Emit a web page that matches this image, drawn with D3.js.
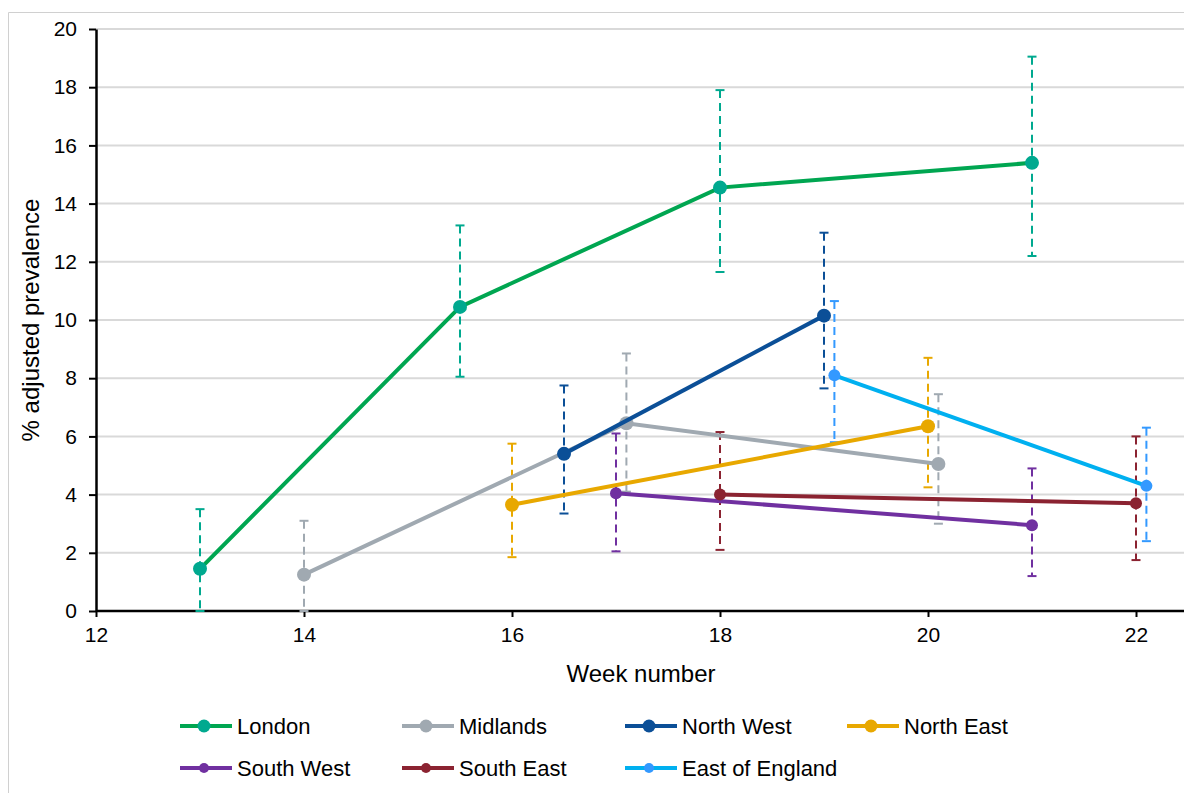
<!DOCTYPE html>
<html>
<head>
<meta charset="utf-8">
<script src="https://cdn.jsdelivr.net/npm/d3@7"></script>
<style>
  body { margin: 0; background: #fff; font-family: "Liberation Sans", Arial, sans-serif; overflow: hidden; }
  svg text { font-family: "Liberation Sans", Arial, sans-serif; fill: #000; }
</style>
</head>
<body>
<div id="chart"></div>
<script>
const width = 1184, height = 793;

// Regions and their readings: week, % adjusted prevalence, lower and upper CI
const regions = ["London", "Midlands", "North West", "North East", "South West", "South East", "East of England"];
const lineColors = ["#00a651", "#a0a9b1", "#0b4f97", "#e8a800", "#7030a0", "#8b2331", "#00b0f0"];
const markerColors = ["#00a98f", "#a0a9b1", "#0b4f97", "#e8a800", "#7030a0", "#8b2331", "#3399ff"];

const londonWeek = [13, 15.5, 18, 21];
const londonValue = [1.45, 10.45, 14.55, 15.4];
const londonLow = [0, 8.05, 11.65, 12.2];
const londonHigh = [3.5, 13.25, 17.9, 19.05];

const midlandsWeek = [14, 17.1, 20.1];
const midlandsValue = [1.25, 6.45, 5.05];
const midlandsLow = [0, 4.1, 3.0];
const midlandsHigh = [3.1, 8.85, 7.45];

const northWestWeek = [16.5, 19];
const northWestValue = [5.4, 10.15];
const northWestLow = [3.35, 7.65];
const northWestHigh = [7.75, 13.0];

const northEastWeek = [16, 20];
const northEastValue = [3.65, 6.35];
const northEastLow = [1.85, 4.25];
const northEastHigh = [5.75, 8.7];

const southWestWeek = [17, 21];
const southWestValue = [4.05, 2.95];
const southWestLow = [2.05, 1.2];
const southWestHigh = [6.1, 4.9];

const southEastWeek = [18, 22];
const southEastValue = [4.0, 3.7];
const southEastLow = [2.1, 1.75];
const southEastHigh = [6.15, 6.0];

const eastWeek = [19.1, 22.1];
const eastValue = [8.1, 4.3];
const eastLow = [5.8, 2.4];
const eastHigh = [10.65, 6.3];

const xTicks = [12, 14, 16, 18, 20, 22];
const yTicks = [0, 2, 4, 6, 8, 10, 12, 14, 16, 18, 20];

function pack(week, value, low, high) {
  return week.map((w, i) => ({ week: w, value: value[i], low: low[i], high: high[i] }));
}
const series = [
  pack(londonWeek, londonValue, londonLow, londonHigh),
  pack(midlandsWeek, midlandsValue, midlandsLow, midlandsHigh),
  pack(northWestWeek, northWestValue, northWestLow, northWestHigh),
  pack(northEastWeek, northEastValue, northEastLow, northEastHigh),
  pack(southWestWeek, southWestValue, southWestLow, southWestHigh),
  pack(southEastWeek, southEastValue, southEastLow, southEastHigh),
  pack(eastWeek, eastValue, eastLow, eastHigh)
];

const svg = d3.select("#chart")
  .append("svg")
  .attr("width", width)
  .attr("height", height);

// chart border (only left and top show in the picture)
svg.append("path")
  .attr("d", "M8.5,793 V12.5 H1184")
  .attr("fill", "none")
  .attr("stroke", "#d0d0d0");

// x = 12 sits at 96px, 22 at 1136px; the axis runs off the right edge
const x = d3.scaleLinear().domain([12, 22]).range([96, 1136]);
const y = d3.scaleLinear().domain([0, 20]).range([611, 29]);
const xEnd = 1190;

// gridlines
svg.append("g")
  .selectAll("line")
  .data(yTicks.filter(d => d > 0))
  .enter()
  .append("line")
  .attr("x1", x(12)).attr("x2", xEnd)
  .attr("y1", d => y(d)).attr("y2", d => y(d))
  .attr("stroke", "#d9d9d9")
  .attr("stroke-width", 2);

// axes
const xAxis = svg.append("g")
  .attr("transform", `translate(0,${y(0)})`)
  .call(d3.axisBottom(x).tickValues(xTicks).tickSize(6).tickPadding(8).tickSizeOuter(0));
xAxis.select(".domain").attr("d", `M${x(12)},0H${xEnd}`);
const yAxis = svg.append("g")
  .attr("transform", `translate(${x(12)},0)`)
  .call(d3.axisLeft(y).tickValues(yTicks).tickSize(7).tickPadding(12).tickSizeOuter(0));

[xAxis, yAxis].forEach(g => {
  g.select(".domain").attr("stroke", "#000").attr("stroke-width", 2.5);
  g.selectAll(".tick line").attr("stroke", "#000").attr("stroke-width", 2);
  g.selectAll(".tick text").attr("font-size", 21).attr("fill", "#000");
});
xAxis.selectAll(".tick text").attr("dy", "0.8em");

svg.append("text")
  .attr("x", 641).attr("y", 682)
  .attr("text-anchor", "middle")
  .attr("font-size", 24)
  .text("Week number");

svg.append("text")
  .attr("transform", `translate(39,${y(10)}) rotate(-90)`)
  .attr("text-anchor", "middle")
  .attr("font-size", 24)
  .text("% adjusted prevalence");

// error bars
series.forEach((pts, i) => {
  const g = svg.append("g");
  g.selectAll(".err")
    .data(pts)
    .enter()
    .append("line")
    .attr("x1", d => x(d.week)).attr("x2", d => x(d.week))
    .attr("y1", d => y(d.high)).attr("y2", d => y(d.low))
    .attr("stroke", markerColors[i])
    .attr("stroke-width", 2)
    .attr("stroke-dasharray", "8,5");
  ["low", "high"].forEach(k => {
    g.selectAll(".cap-" + k)
      .data(pts)
      .enter()
      .append("line")
      .attr("x1", d => x(d.week) - 4.5).attr("x2", d => x(d.week) + 4.5)
      .attr("y1", d => y(d[k])).attr("y2", d => y(d[k]))
      .attr("stroke", markerColors[i])
      .attr("stroke-width", 2);
  });
});

// lines and markers
const line = d3.line().x(d => x(d.week)).y(d => y(d.value));
series.forEach((pts, i) => {
  svg.append("path")
    .datum(pts)
    .attr("d", line)
    .attr("fill", "none")
    .attr("stroke", lineColors[i])
    .attr("stroke-width", 4);
  svg.selectAll(null)
    .data(pts)
    .enter()
    .append("circle")
    .attr("cx", d => x(d.week))
    .attr("cy", d => y(d.value))
    .attr("r", i < 4 ? 7 : 6)
    .attr("fill", markerColors[i]);
});

// legend
const legendX = [180, 402, 625, 847];
const legend = svg.append("g");
regions.forEach((name, i) => {
  const lx = legendX[i % 4];
  const ly = i < 4 ? 726 : 768;
  const item = legend.append("g").attr("transform", `translate(${lx},${ly})`);
  item.append("line")
    .attr("x1", 0).attr("x2", 52).attr("y1", 0).attr("y2", 0)
    .attr("stroke", lineColors[i]).attr("stroke-width", 4);
  item.append("circle").attr("cx", 24).attr("cy", 0).attr("r", i < 4 ? 6.5 : 5).attr("fill", markerColors[i]);
  item.append("text")
    .attr("x", 57).attr("y", 0).attr("dy", "0.36em")
    .attr("font-size", 22)
    .text(name);
});
</script>
</body>
</html>
